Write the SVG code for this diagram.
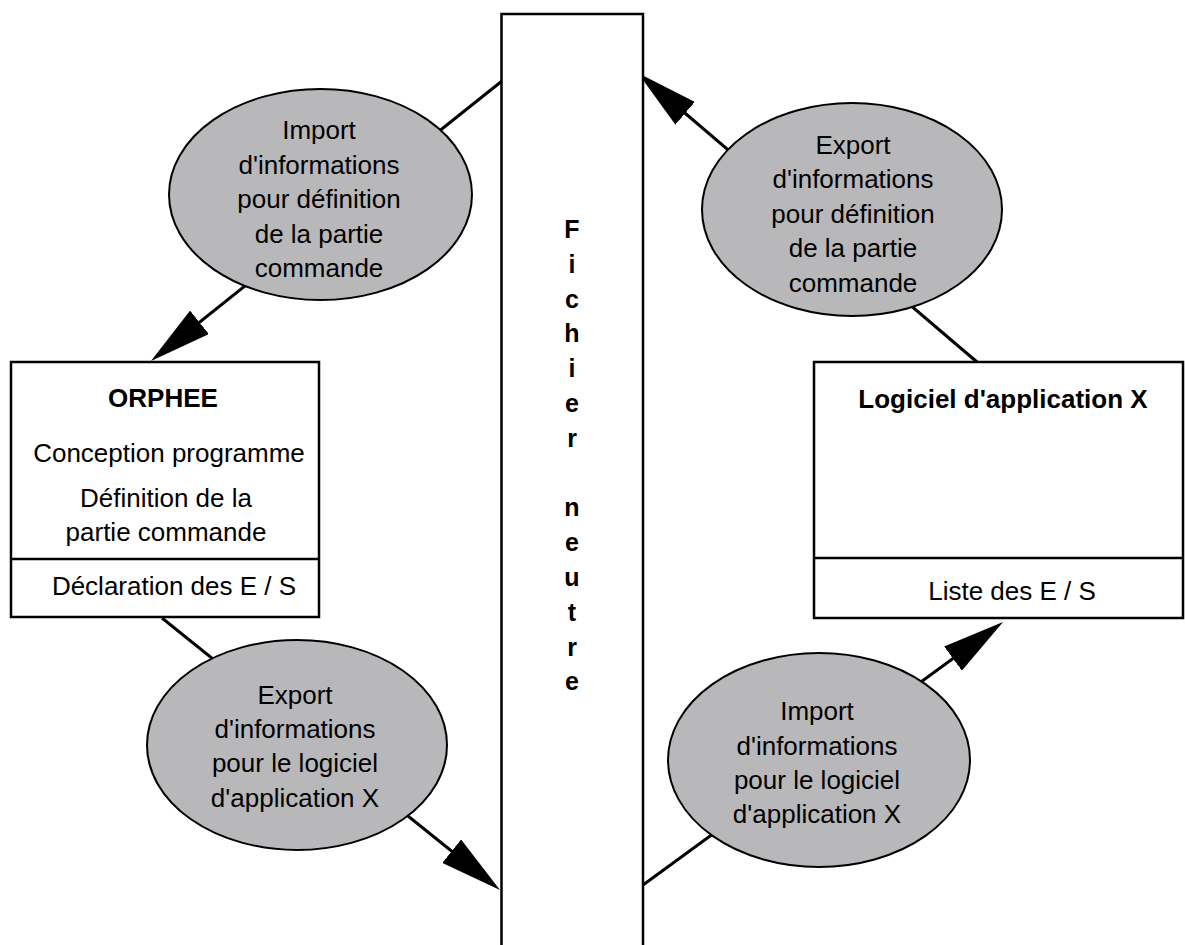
<svg xmlns="http://www.w3.org/2000/svg" width="1185" height="945" viewBox="0 0 1185 945">
  <style>
    .t { font-family: "Liberation Sans", Arial, sans-serif; font-size: 26px; fill: #000; text-anchor: middle; }
    .b { font-weight: bold; }
    .v { font-family: "Liberation Sans", Arial, sans-serif; font-size: 25px; font-weight: bold; fill: #000; text-anchor: middle; }
    .box { fill: #fff; stroke: #000; stroke-width: 2.5; }
    .div { stroke: #000; stroke-width: 2.5; fill: none; }
    .ell { fill: #b8b8ba; stroke: #000; stroke-width: 2; }
    .con { stroke: #000; stroke-width: 3; fill: none; marker-end: url(#arr); }
  </style>
  <defs>
    <marker id="arr" markerUnits="userSpaceOnUse" viewBox="0 0 62 30" markerWidth="62" markerHeight="30" refX="42" refY="15" orient="auto">
      <path d="M0,0 L62,15 L0,30 Z" fill="#000"/>
    </marker>
  </defs>
  <rect width="1185" height="945" fill="#fff"/>

  <g id="connectors">
    <line class="con" x1="502" y1="81" x2="166.6" y2="348.5"/>
    <line class="con" x1="977" y1="362" x2="653.2" y2="86"/>
    <line class="con" x1="162" y1="618" x2="484.4" y2="877.5"/>
    <line class="con" x1="643" y1="885" x2="986.9" y2="633.8"/>
  </g>

  <g id="fichier-neutre">
    <path class="box" d="M501.5,950 V14 H643 V950"/>
    <text class="v" x="572" y="238">F</text>
    <text class="v" x="572" y="272.8">i</text>
    <text class="v" x="572" y="307.6">c</text>
    <text class="v" x="572" y="342.4">h</text>
    <text class="v" x="572" y="377.2">i</text>
    <text class="v" x="572" y="412">e</text>
    <text class="v" x="572" y="446.8">r</text>
    <text class="v" x="572" y="516.4">n</text>
    <text class="v" x="572" y="551.2">e</text>
    <text class="v" x="572" y="586">u</text>
    <text class="v" x="572" y="620.8">t</text>
    <text class="v" x="572" y="655.6">r</text>
    <text class="v" x="572" y="690.4">e</text>
  </g>

  <g id="orphee">
    <rect class="box" x="11" y="362" width="308" height="255"/>
    <line class="div" x1="11" y1="559" x2="319" y2="559"/>
    <text class="t b" x="163" y="407">ORPHEE</text>
    <text class="t" x="169" y="462">Conception programme</text>
    <text class="t" x="166" y="507">Définition de la</text>
    <text class="t" x="166" y="541">partie commande</text>
    <text class="t" x="174" y="595">Déclaration des E / S</text>
  </g>

  <g id="logiciel">
    <rect class="box" x="814" y="362" width="369" height="256"/>
    <line class="div" x1="814" y1="558" x2="1183" y2="558"/>
    <text class="t b" x="1003" y="408">Logiciel d'application X</text>
    <text class="t" x="1012" y="600">Liste des E / S</text>
  </g>

  <g id="import-commande">
    <ellipse class="ell" cx="320.5" cy="194.5" rx="151.5" ry="105.5"/>
    <text class="t" x="319" y="139">Import</text>
    <text class="t" x="319" y="174">d'informations</text>
    <text class="t" x="319" y="208">pour définition</text>
    <text class="t" x="319" y="243">de la partie</text>
    <text class="t" x="319" y="277">commande</text>
  </g>

  <g id="export-commande">
    <ellipse class="ell" cx="852" cy="209.5" rx="150" ry="106.5"/>
    <text class="t" x="853" y="154">Export</text>
    <text class="t" x="853" y="188">d'informations</text>
    <text class="t" x="853" y="223">pour définition</text>
    <text class="t" x="853" y="257">de la partie</text>
    <text class="t" x="853" y="292">commande</text>
  </g>

  <g id="export-logiciel">
    <ellipse class="ell" cx="297" cy="745" rx="150" ry="105"/>
    <text class="t" x="295" y="704">Export</text>
    <text class="t" x="295" y="738">d'informations</text>
    <text class="t" x="295" y="772">pour le logiciel</text>
    <text class="t" x="295" y="807">d'application X</text>
  </g>

  <g id="import-logiciel">
    <ellipse class="ell" cx="819" cy="760" rx="151" ry="107"/>
    <text class="t" x="817" y="720">Import</text>
    <text class="t" x="817" y="755">d'informations</text>
    <text class="t" x="817" y="789">pour le logiciel</text>
    <text class="t" x="817" y="823">d'application X</text>
  </g>
</svg>
